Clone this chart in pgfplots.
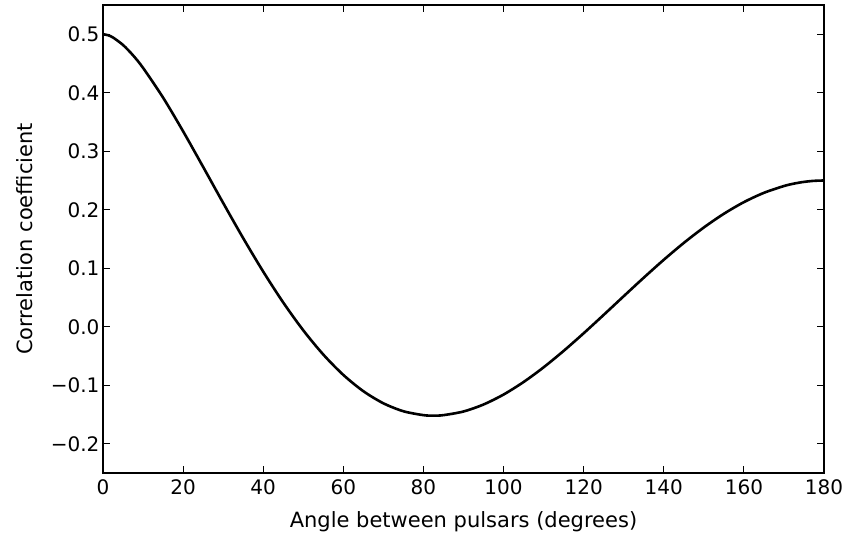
\documentclass[border=0pt]{standalone}
\usepackage{pgfplots}
\pgfplotsset{compat=1.18}
\usepackage{fontspec}
\setmainfont{DejaVu Sans}
\begin{document}
\begin{tikzpicture}
\begin{axis}[
  width=721pt, height=468pt, scale only axis,
  xmin=0, xmax=180, ymin=-0.25, ymax=0.55,
  xtick={0,20,...,180},
  ytick={-0.2,-0.1,0,0.1,0.2,0.3,0.4,0.5},
  yticklabels={−0.2,−0.1,0.0,0.1,0.2,0.3,0.4,0.5},
  /pgf/number format/assume math mode=true,
  tick align=inside,
  tick pos=both,
  major tick length=7pt,
  every tick/.style={black, line width=1.1pt},
  axis line style={line width=1.3pt},
  tick label style={font=\fontsize{20}{24}\selectfont},
  xticklabel style={yshift=-3pt},
  xlabel={Angle between pulsars (degrees)},
  ylabel={Correlation coefficient},
  label style={font=\fontsize{21}{25}\selectfont},
  xlabel style={yshift=-10pt},
  ylabel style={yshift=11pt},
]
\addplot[black, line width=2.6pt, smooth, tension=0.5] coordinates {
(0,0.5) (1.25,0.49836) (2.5,0.49442) (5,0.48164) (7.5,0.46393) (10,0.4425) (15,0.39167) (20,0.33408)
(25,0.2732) (30,0.21162) (35,0.15142) (40,0.09424) (45,0.0414)
(50,-0.00613) (55,-0.04755) (60,-0.08236) (65,-0.11018) (70,-0.13087)
(75,-0.14446) (80,-0.1511) (82.5,-0.15195) (85,-0.1511) (90,-0.14486)
(95,-0.1329) (100,-0.1159) (105,-0.09446) (110,-0.06934) (115,-0.04128)
(120,-0.01114) (125,0.0203) (130,0.05223) (135,0.08387) (140,0.11447)
(145,0.1433) (150,0.16971) (155,0.19311) (160,0.213) (165,0.22892)
(170,0.24055) (172.5,0.24467) (175,0.24762) (177.5,0.249405) (180,0.25)
};
\end{axis}
\pgfresetboundingbox
\path ([shift={(-103pt,-63pt)}]current axis.south west) rectangle ([shift={(21pt,5pt)}]current axis.north east);
\end{tikzpicture}
\end{document}
